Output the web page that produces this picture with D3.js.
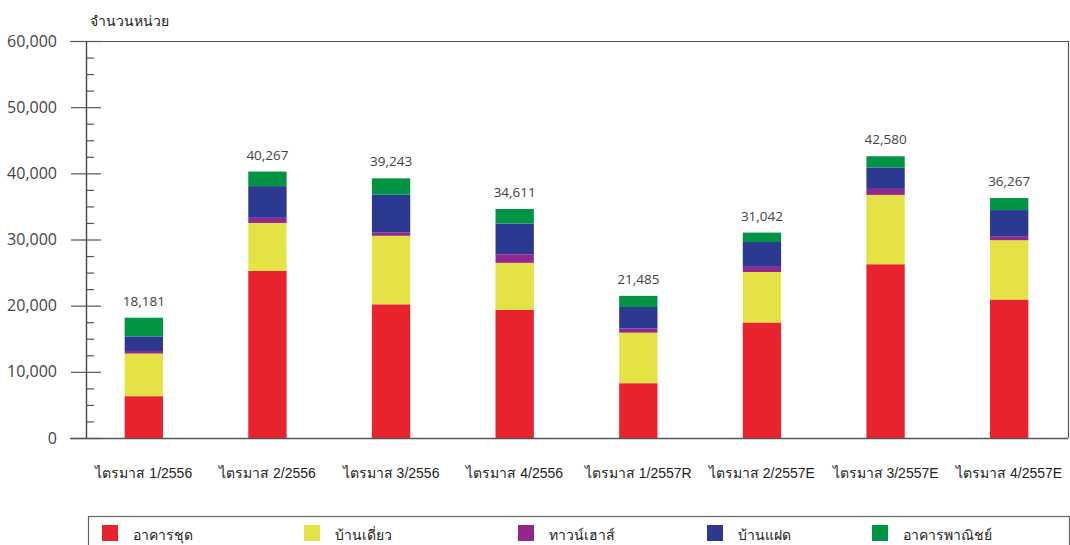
<!DOCTYPE html>
<html lang="th">
<head>
<meta charset="utf-8">
<script src="https://cdn.jsdelivr.net/npm/d3@7"></script>
<style>
  html, body { margin: 0; padding: 0; background: #fff; }
  svg { display: block; font-family: "Open Sans", "Noto Sans", "DejaVu Sans", sans-serif; }
</style>
</head>
<body>
<svg id="chart" width="1070" height="545"></svg>
<script>
// Quarterly housing units by type
const quarters = [
  "ไตรมาส 1/2556", "ไตรมาส 2/2556", "ไตรมาส 3/2556", "ไตรมาส 4/2556",
  "ไตรมาส 1/2557R", "ไตรมาส 2/2557E", "ไตรมาส 3/2557E", "ไตรมาส 4/2557E"
];
const seriesNames = ["อาคารชุด", "บ้านเดี่ยว", "ทาวน์เฮาส์", "บ้านแฝด", "อาคารพาณิชย์"];

const condo      = [6318, 25248, 20204, 19372, 8283, 17461, 26261, 20928];
const detached   = [6447,  7251, 10361,  7103, 7636,  7631, 10477,  8969];
const townhouse  = [ 387,   777,   518,  1291,  647,   776,   909,   520];
const twinHouse  = [2192,  4791,  5699,  4649, 3236,  3751,  3245,  4030];
const commercial = [2837,  2200,  2461,  2196, 1683,  1423,  1688,  1820];

const yTicks = [0, 10000, 20000, 30000, 40000, 50000, 60000];
const yMax = 60000;
const yMinorStep = 2500;

const colors = ["#E8232E", "#E5E246", "#92278F", "#2B3990", "#009444"];

// ---- layout ----
const plot = { left: 86, right: 1068, top: 41, bottom: 438 };

const svg = d3.select("#chart");

const rows = quarters.map((q, i) => ({
  quarter: q,
  s0: condo[i], s1: detached[i], s2: townhouse[i], s3: twinHouse[i], s4: commercial[i]
}));
const keys = ["s0", "s1", "s2", "s3", "s4"];
const stacked = d3.stack().keys(keys)(rows);

const x = d3.scaleBand()
  .domain(quarters)
  .range([82, 1071])
  .paddingInner(0.69)
  .paddingOuter(0.345);

const y = d3.scaleLinear()
  .domain([0, yMax])
  .range([plot.bottom, plot.top]);

// frame: top and right edges
svg.append("line")
  .attr("x1", 70).attr("x2", plot.right)
  .attr("y1", plot.top + 0.5).attr("y2", plot.top + 0.5)
  .attr("stroke", "#555").attr("stroke-width", 1.2);
svg.append("line")
  .attr("x1", plot.right + 0.5).attr("x2", plot.right + 0.5)
  .attr("y1", plot.top).attr("y2", plot.bottom)
  .attr("stroke", "#555").attr("stroke-width", 1.2);

// stacked bars
svg.append("g")
  .selectAll("g")
  .data(stacked)
  .join("g")
  .attr("fill", (d, i) => colors[i])
  .selectAll("rect")
  .data(d => d)
  .join("rect")
  .attr("x", d => x(d.data.quarter))
  .attr("width", x.bandwidth())
  .attr("y", d => y(d[1]))
  .attr("height", d => y(d[0]) - y(d[1]));

// totals above bars
const topLayer = stacked[stacked.length - 1];
svg.append("g")
  .selectAll("text")
  .data(topLayer)
  .join("text")
  .attr("x", d => x(d.data.quarter) + x.bandwidth() / 2)
  .attr("y", d => y(d[1]) - 12)
  .attr("text-anchor", "middle")
  .attr("font-size", 13.5)
  .attr("fill", "#444")
  .text(d => d3.format(",")(d[1]));

// minor ticks on y axis
const minorVals = d3.range(0, yMax + 1, yMinorStep).filter(v => v % 10000 !== 0);
svg.append("g")
  .attr("transform", `translate(${plot.left},0)`)
  .call(d3.axisLeft(y).tickValues(minorVals).tickSize(-8).tickFormat(""))
  .call(g => g.select(".domain").remove())
  .call(g => g.selectAll(".tick line").attr("stroke", "#555").attr("stroke-width", 1.2));

// major ticks and labels on y axis
svg.append("g")
  .attr("transform", `translate(${plot.left},0)`)
  .call(d3.axisLeft(y).tickValues(yTicks).tickSize(15).tickPadding(14).tickSizeOuter(0).tickFormat(d3.format(",")))
  .call(g => g.select(".domain").attr("stroke", "#444").attr("stroke-width", 1.4))
  .call(g => g.selectAll(".tick line").attr("x2", -15).attr("x1", 15).attr("stroke", "#555").attr("stroke-width", 1.2))
  .call(g => g.selectAll(".tick text").attr("font-size", 16).attr("fill", "#444").attr("font-family", "'Open Sans', sans-serif"));

// x axis baseline and category labels
svg.append("g")
  .attr("transform", `translate(0,${plot.bottom})`)
  .call(d3.axisBottom(x).tickSize(0).tickPadding(30).tickSizeOuter(0))
  .call(g => g.select(".domain").attr("d", `M70,0.5H${plot.right}`).attr("stroke", "#555").attr("stroke-width", 1.4))
  .call(g => g.selectAll(".tick text").attr("font-size", 14).attr("fill", "#222"));

// y axis title
svg.append("text")
  .attr("x", 90).attr("y", 26)
  .attr("font-size", 14).attr("fill", "#222")
  .text("จำนวนหน่วย");

// legend
const legendX = [102, 304, 518, 707, 872];
svg.append("rect")
  .attr("x", 88.5).attr("y", 516.5)
  .attr("width", 981).attr("height", 60)
  .attr("fill", "none").attr("stroke", "#666").attr("stroke-width", 1.2);
const leg = svg.append("g")
  .selectAll("g")
  .data(seriesNames)
  .join("g")
  .attr("transform", (d, i) => `translate(${legendX[i]},525)`);
leg.append("rect")
  .attr("width", 16).attr("height", 16)
  .attr("fill", (d, i) => colors[i]);
leg.append("text")
  .attr("x", 31).attr("y", 15)
  .attr("font-size", 14).attr("fill", "#222")
  .text(d => d);
</script>
</body>
</html>
